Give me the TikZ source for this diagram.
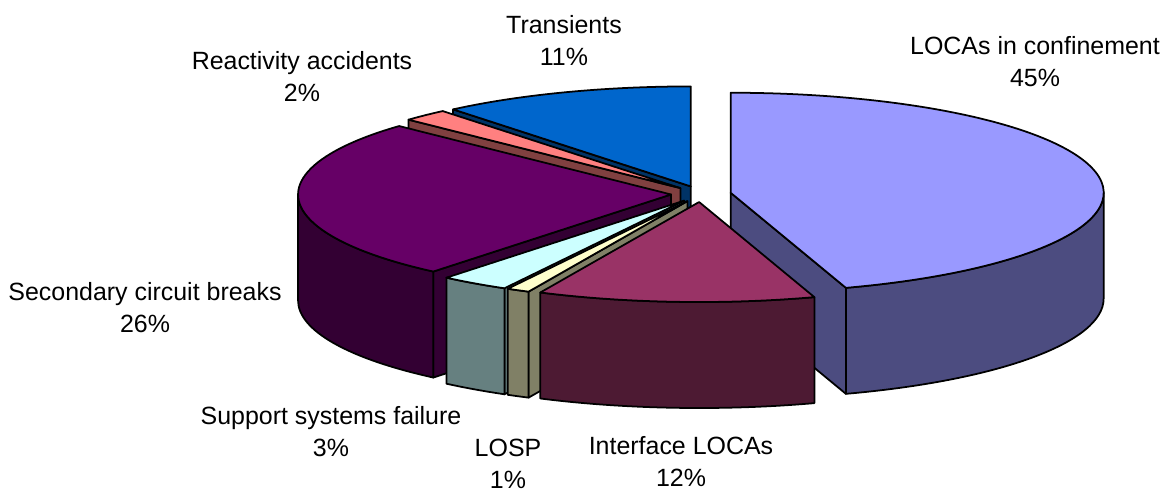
\documentclass[tikz,border=0pt]{standalone}
\usepackage{fontspec}
\setmainfont{Liberation Sans}
\usepackage{tikz}
\usepackage{xcolor}
\usetikzlibrary{calc}

\definecolor{locatop}{HTML}{9999FF}
\definecolor{locaside}{HTML}{4C4C80}
\definecolor{ifacetop}{HTML}{993366}
\definecolor{ifaceside}{HTML}{4D1A33}
\definecolor{losptop}{HTML}{FFFFCC}
\definecolor{lospside}{HTML}{808066}
\definecolor{supptop}{HTML}{CCFFFF}
\definecolor{suppside}{HTML}{668080}
\definecolor{sectop}{HTML}{660066}
\definecolor{secside}{HTML}{330033}
\definecolor{reacttop}{HTML}{FF8080}
\definecolor{reactside}{HTML}{804040}
\definecolor{transtop}{HTML}{0066CC}
\definecolor{transside}{HTML}{003366}

\tikzset{
  slice/.style={draw=black,line width=1pt,line join=round},
  rim/.style={x radius=373,y radius=100},
  lbl/.style={font=\fontsize{14.2}{18.2}\selectfont,align=center,inner sep=0pt}
}

\begin{document}
\begin{tikzpicture}[x=0.02cm,y=0.02cm]
\useasboundingbox (0,0) rectangle (1171,493);
% slice centres, each pushed out along its middle angle
\coordinate (loca) at ({701+30*cos(9)},{299+8.04*sin(9)});
\coordinate (iface) at ({701+30*cos(266.4)},{299+8.04*sin(266.4)});
\coordinate (losp) at ({701+30*cos(243)},{299+8.04*sin(243)});
\coordinate (supp) at ({701+30*cos(235.8)},{299+8.04*sin(235.8)});
\coordinate (sec) at ({701+30*cos(183.6)},{299+8.04*sin(183.6)});
\coordinate (react) at ({701+30*cos(133.2)},{299+8.04*sin(133.2)});
\coordinate (trans) at ({701+30*cos(109.8)},{299+8.04*sin(109.8)});

% LOCAs in confinement
\filldraw[slice,fill=locaside] (loca) -- ($(loca)+(-72:373 and 100)$) -- ++(0,-106) -- ($(loca)+(0,-106)$) -- cycle;
\filldraw[slice,fill=locaside] ($(loca)+(-72:373 and 100)$) arc[rim,start angle=-72,end angle=0] -- ++(0,-106) arc[rim,start angle=0,end angle=-72] -- cycle;
\filldraw[slice,fill=locatop] (loca) -- ($(loca)+(-72:373 and 100)$) arc[rim,start angle=-72,end angle=90] -- cycle;

% Transients
\filldraw[slice,fill=transside] (trans) -- ($(trans)+(129.6:373 and 100)$) -- ++(0,-106) -- ($(trans)+(0,-106)$) -- cycle;
\filldraw[slice,fill=transtop] (trans) -- ($(trans)+(90:373 and 100)$) arc[rim,start angle=90,end angle=129.6] -- cycle;

% Reactivity accidents
\filldraw[slice,fill=reactside] (react) -- ($(react)+(136.8:373 and 100)$) -- ++(0,-106) -- ($(react)+(0,-106)$) -- cycle;
\filldraw[slice,fill=reacttop] (react) -- ($(react)+(129.6:373 and 100)$) arc[rim,start angle=129.6,end angle=136.8] -- cycle;

% Secondary circuit breaks
\filldraw[slice,fill=secside] (sec) -- ($(sec)+(230.4:373 and 100)$) -- ++(0,-106) -- ($(sec)+(0,-106)$) -- cycle;
\filldraw[slice,fill=secside] ($(sec)+(180:373 and 100)$) arc[rim,start angle=180,end angle=230.4] -- ++(0,-106) arc[rim,start angle=230.4,end angle=180] -- cycle;
\filldraw[slice,fill=sectop] (sec) -- ($(sec)+(136.8:373 and 100)$) arc[rim,start angle=136.8,end angle=230.4] -- cycle;

% Support systems failure
\filldraw[slice,fill=suppside] (supp) -- ($(supp)+(241.2:373 and 100)$) -- ++(0,-106) -- ($(supp)+(0,-106)$) -- cycle;
\filldraw[slice,fill=suppside] ($(supp)+(230.4:373 and 100)$) arc[rim,start angle=230.4,end angle=241.2] -- ++(0,-106) arc[rim,start angle=241.2,end angle=230.4] -- cycle;
\filldraw[slice,fill=supptop] (supp) -- ($(supp)+(230.4:373 and 100)$) arc[rim,start angle=230.4,end angle=241.2] -- cycle;

% LOSP
\filldraw[slice,fill=lospside] (losp) -- ($(losp)+(244.8:373 and 100)$) -- ++(0,-106) -- ($(losp)+(0,-106)$) -- cycle;
\filldraw[slice,fill=lospside] ($(losp)+(241.2:373 and 100)$) arc[rim,start angle=241.2,end angle=244.8] -- ++(0,-106) arc[rim,start angle=244.8,end angle=241.2] -- cycle;
\filldraw[slice,fill=losptop] (losp) -- ($(losp)+(241.2:373 and 100)$) arc[rim,start angle=241.2,end angle=244.8] -- cycle;

% Interface LOCAs
\filldraw[slice,fill=ifaceside] ($(iface)+(244.8:373 and 100)$) arc[rim,start angle=244.8,end angle=288] -- ++(0,-106) arc[rim,start angle=288,end angle=244.8] -- cycle;
\filldraw[slice,fill=ifacetop] (iface) -- ($(iface)+(244.8:373 and 100)$) arc[rim,start angle=244.8,end angle=288] -- cycle;

% labels
\node[lbl] (lblloca) at (1035,431.5) {LOCAs in confinement\\45\%};
\node[lbl] (lbltrans) at (564,452) {Transients\\11\%};
\node[lbl] (lblreact) at (302,416) {Reactivity accidents\\2\%};
\node[lbl] (lblsec) at (145,185) {Secondary circuit breaks\\26\%};
\node[lbl] (lblsupp) at (331,61.5) {Support systems failure\\3\%};
\node[lbl] (lbllosp) at (508,29) {LOSP\\1\%};
\node[lbl] (lbliface) at (681,31) {Interface LOCAs\\12\%};
\end{tikzpicture}
\end{document}
